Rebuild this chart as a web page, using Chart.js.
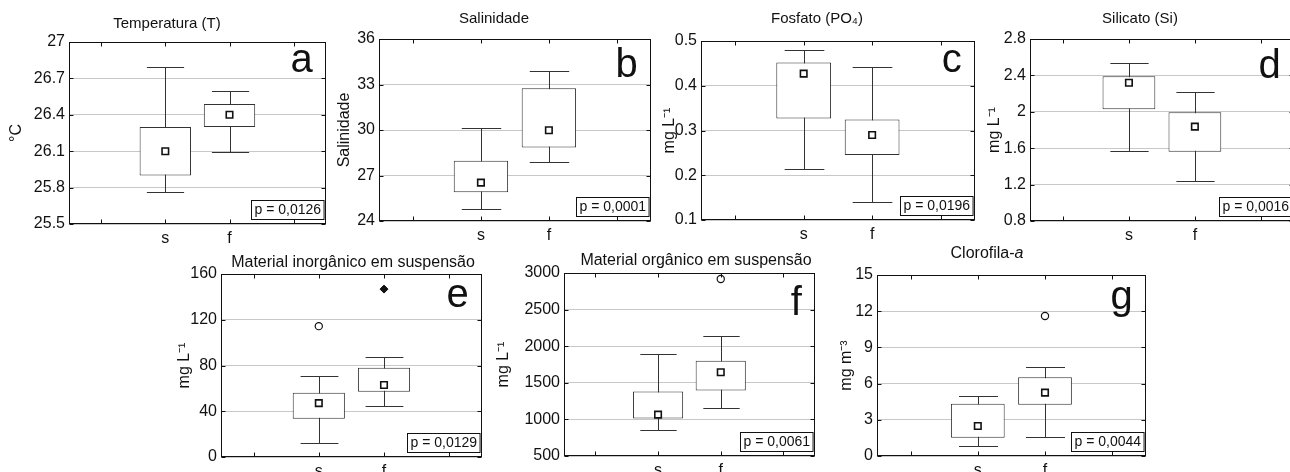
<!DOCTYPE html>
<html lang="pt">
<head>
<meta charset="UTF-8">
<title>Box plots s x f</title>
<script src="https://cdn.jsdelivr.net/npm/chart.js"></script>
<style>
  html, body { margin: 0; padding: 0; background: #fff; overflow: hidden; }
  body { width: 1290px; height: 472px; position: relative; }
  canvas { position: absolute; }
</style>
</head>
<body>
<script>
// categories and data
const groups = ['s', 'f'];
const xTickLabels = ['', 's', 'f', ''];
const titles = ['Temperatura (T)', 'Salinidade', 'Fosfato (PO₄)', 'Silicato (Si)',
  'Material inorgânico em suspensão', 'Material orgânico em suspensão', 'Clorofila-'];
const titleItalic = ['', '', '', '', '', '', 'a'];
const letters = ['a', 'b', 'c', 'd', 'e', 'f', 'g'];
const yTitles = ['°C', 'Salinidade', 'mg L⁻¹', 'mg L⁻¹', 'mg L⁻¹', 'mg L⁻¹', 'mg m⁻³'];
const pValues = ['p = 0,0126', 'p = 0,0001', 'p = 0,0196', 'p = 0,0016', 'p = 0,0129', 'p = 0,0061', 'p = 0,0044'];

const yMin = [25.5, 24, 0.1, 0.8, 0, 500, 0];
const yMax = [27, 36, 0.5, 2.8, 160, 3000, 15];
const yStep = [0.3, 3, 0.1, 0.4, 40, 500, 3];

const whiskerLow = [[25.76, 26.09], [24.77, 27.87], [0.215, 0.140], [1.566, 1.243], [12.6, 44.5], [856, 1152], [0.86, 1.57]];
const boxLow = [[25.90, 26.30], [25.90, 28.84], [0.327, 0.245], [2.027, 1.562], [33.4, 57.1], [1011, 1394], [1.52, 4.25]];
const medians = [[26.10, 26.40], [26.53, 29.98], [0.427, 0.290], [2.32, 1.837], [47.1, 62.9], [1065, 1645], [2.49, 5.25]];
const boxHigh = [[26.30, 26.49], [27.98, 32.75], [0.452, 0.3245], [2.39, 1.994], [56.2, 78.1], [1380, 1800], [4.34, 6.52]];
const whiskerHigh = [[26.79, 26.60], [30.15, 33.89], [0.481, 0.443], [2.54, 2.221], [70.8, 87.8], [1887, 2142], [4.94, 7.35]];
const outliers = [[null, null], [null, null], [null, null], [null, null], [114.4, null], [null, 2918], [null, 11.6]];
const extremes = [[null, null], [null, null], [null, null], [null, null], [null, 146.8], [null, null], [null, null]];

// panel layout (page pixels)
const plotBoxes = [[69, 42, 326, 224], [379, 39, 651, 221], [701, 41, 975, 220], [1030, 39, 1294, 221],
  [221, 274, 482, 457], [564, 273, 815, 456], [877, 275, 1146, 456]];
const canvasLeft = [7, 335, 660, 985, 175, 494, 837];
const canvasTop = [0, 0, 0, 0, 240, 240, 240];
const titleX = [167, 494, 817, 1140, 353, 696, 987];
const titleDy = [-14, -16, -18, -16, -7, -8, -17];
const titleSize = [15, 15, 15, 15, 16, 16, 16];
const letterDy = [30, 38, 31, 39, 33, 42, 34];

const FONT = '"Liberation Sans", Arial, sans-serif';
const INK = '#111';
const xPos = j => j + 1.5;

function makeExtras(i, cl) {
  return {
    id: 'extras' + i,
    beforeDatasetsDraw(chart) {
      const {ctx, scales: {x, y}} = chart;
      const cap = x.getPixelForValue(0.29) - x.getPixelForValue(0);
      ctx.save();
      ctx.strokeStyle = '#333';
      ctx.lineWidth = 1;
      groups.forEach((g, j) => {
        const px = Math.round(x.getPixelForValue(xPos(j))) + 0.5;
        const lo = Math.round(y.getPixelForValue(whiskerLow[i][j])) + 0.5;
        const hi = Math.round(y.getPixelForValue(whiskerHigh[i][j])) + 0.5;
        ctx.beginPath();
        ctx.moveTo(px, lo); ctx.lineTo(px, hi);
        ctx.moveTo(px - cap, lo); ctx.lineTo(px + cap, lo);
        ctx.moveTo(px - cap, hi); ctx.lineTo(px + cap, hi);
        ctx.stroke();
      });
      ctx.restore();
    },
    afterDraw(chart) {
      const {ctx, chartArea: a, scales: {x, y}} = chart;
      const L = Math.round(a.left) + 0.5, R = Math.round(a.right) - 0.5;
      const T = Math.round(a.top) + 0.5, B = Math.round(a.bottom) - 0.5;
      ctx.save();
      ctx.strokeStyle = INK;
      ctx.lineWidth = 1;
      ctx.strokeRect(L, T, R - L, B - T);
      // inward tick marks
      ctx.beginPath();
      x.ticks.forEach(t => {
        const px = Math.round(x.getPixelForValue(t.value)) + 0.5;
        ctx.moveTo(px, T); ctx.lineTo(px, T + 4);
        ctx.moveTo(px, B); ctx.lineTo(px, B - 4);
      });
      y.ticks.forEach(t => {
        const py = Math.round(y.getPixelForValue(t.value)) + 0.5;
        ctx.moveTo(L, py); ctx.lineTo(L + 4, py);
        ctx.moveTo(R, py); ctx.lineTo(R - 4, py);
      });
      ctx.stroke();

      // panel title
      ctx.fillStyle = INK;
      ctx.textBaseline = 'alphabetic';
      ctx.textAlign = 'left';
      const normalFont = titleSize[i] + 'px ' + FONT;
      const italicFont = 'italic ' + titleSize[i] + 'px ' + FONT;
      ctx.font = normalFont;
      const w1 = ctx.measureText(titles[i]).width;
      ctx.font = italicFont;
      const w2 = titleItalic[i] ? ctx.measureText(titleItalic[i]).width : 0;
      const tx = titleX[i] - cl - (w1 + w2) / 2;
      const ty = a.top + titleDy[i];
      ctx.font = normalFont;
      ctx.fillText(titles[i], tx, ty);
      if (titleItalic[i]) {
        ctx.font = italicFont;
        ctx.fillText(titleItalic[i], tx + w1, ty);
      }

      // panel letter
      ctx.font = '40px ' + FONT;
      ctx.textAlign = 'right';
      ctx.fillText(letters[i], a.right - 13, a.top + letterDy[i]);

      // p value box
      ctx.font = '14px ' + FONT;
      ctx.textAlign = 'left';
      const pw = ctx.measureText(pValues[i]).width + 6;
      const bx = Math.round(a.right - 2 - pw) + 0.5, by = Math.round(a.bottom - 24) + 0.5;
      ctx.fillStyle = '#fff';
      ctx.fillRect(bx, by, pw, 19);
      ctx.strokeRect(bx, by, pw, 19);
      ctx.fillStyle = INK;
      ctx.textBaseline = 'middle';
      ctx.fillText(pValues[i], bx + 3, by + 10);
      ctx.restore();
    }
  };
}

plotBoxes.forEach((box, i) => {
  const [L, T, R, B] = box;
  const cl = canvasLeft[i], ct = canvasTop[i];
  const cw = R - cl + 6, ch = B - ct + 32;
  const canvas = document.createElement('canvas');
  canvas.width = cw;
  canvas.height = ch;
  canvas.style.left = cl + 'px';
  canvas.style.top = ct + 'px';
  canvas.style.width = cw + 'px';
  canvas.style.height = ch + 'px';
  document.body.appendChild(canvas);

  const pts = arr => groups.map((g, j) => ({x: xPos(j), y: arr[i][j]})).filter(p => p.y !== null);

  new Chart(canvas.getContext('2d'), {
    type: 'bar',
    data: {
      datasets: [
        {
          type: 'bar',
          data: groups.map((g, j) => ({x: xPos(j), y: [boxLow[i][j], boxHigh[i][j]]})),
          backgroundColor: '#fff',
          borderColor: '#333',
          borderWidth: 1,
          borderSkipped: false,
          barPercentage: 0.8,
          categoryPercentage: 1,
          order: 2
        },
        {
          type: 'scatter',
          data: pts(medians),
          pointStyle: 'rect',
          radius: 4.6,
          borderWidth: 1.6,
          borderColor: INK,
          backgroundColor: '#fff',
          order: 1
        },
        {
          type: 'scatter',
          data: pts(outliers),
          pointStyle: 'circle',
          radius: 3.6,
          borderWidth: 1.2,
          borderColor: INK,
          backgroundColor: '#fff',
          order: 1
        },
        {
          type: 'scatter',
          data: pts(extremes),
          pointStyle: 'rectRot',
          radius: 4,
          borderWidth: 1,
          borderColor: INK,
          backgroundColor: INK,
          order: 1
        }
      ]
    },
    options: {
      responsive: false,
      animation: false,
      devicePixelRatio: 1,
      layout: { padding: { top: T - ct, right: cw - (R - cl), left: 0, bottom: 0 } },
      plugins: { legend: { display: false }, tooltip: { enabled: false } },
      scales: {
        x: {
          type: 'linear',
          min: 0,
          max: 4,
          offset: false,
          afterBuildTicks: s => { s.ticks = [0.5, 1.5, 2.5, 3.5].map(v => ({value: v})); },
          ticks: {
            callback: (v, k) => xTickLabels[k],
            font: { family: FONT, size: 16 },
            color: INK,
            padding: 5,
            maxRotation: 0,
            autoSkip: false
          },
          grid: { display: false, drawTicks: false },
          border: { display: false },
          afterFit: s => { s.height = ch - (B - ct); }
        },
        y: {
          min: yMin[i],
          max: yMax[i],
          ticks: {
            stepSize: yStep[i],
            callback: v => String(+v.toFixed(4)),
            font: { family: FONT, size: 16 },
            color: INK,
            padding: 4
          },
          grid: { color: '#c8c8c8', drawTicks: false },
          border: { display: false },
          title: {
            display: true,
            text: yTitles[i],
            font: { family: FONT, size: 16 },
            color: INK,
            padding: 0
          },
          afterFit: s => { s.width = L - cl; }
        }
      }
    },
    plugins: [makeExtras(i, cl)]
  });
});
</script>
</body>
</html>
